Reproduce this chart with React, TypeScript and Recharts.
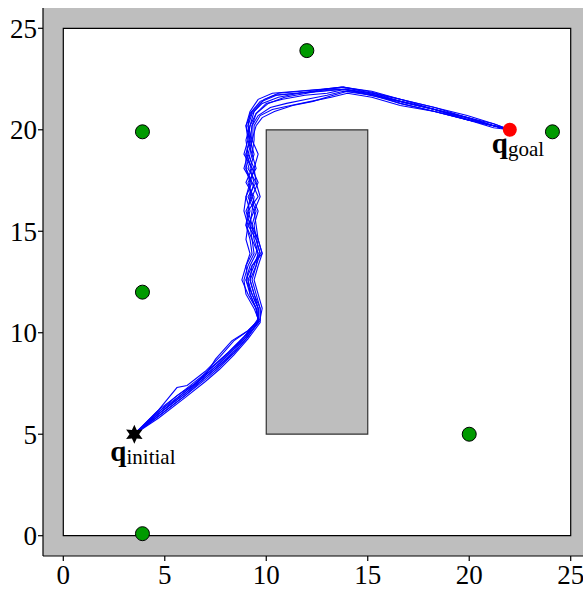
import React from 'react';
import { ComposedChart, XAxis, YAxis, Line, Scatter, ReferenceArea } from 'recharts';

type Pt = [number, number];

const axisTicks = [0, 5, 10, 15, 20, 25];
const workspace = { x1: 0, x2: 25, y1: 0, y2: 25 };
const obstacle = { x1: 10, x2: 15, y1: 5, y2: 20 };

const landmarks: Pt[] = [
  [3.9, 19.9], [12, 23.9], [24.1, 19.9], [3.9, 12], [20, 5], [3.9, 0.1],
];
const startPoint: Pt[] = [[3.5, 5]];
const goalPoint: Pt[] = [[22, 20]];

const runs: Pt[][] = [
  [[3.5,5.0],[4.7,6.2],[5.6,7.3],[6.1,7.4],[7.0,8.1],[7.7,8.8],[8.4,9.6],[9.1,10.1],[9.6,10.6],
   [9.5,11.2],[9.2,11.9],[9.0,12.6],[9.3,13.3],[9.7,13.9],[9.5,14.6],[9.1,15.3],[9.4,16.0],[9.1,16.7],[9.5,17.4],[9.1,18.1],[9.3,18.8],[9.1,19.5],[9.2,20.2],[9.5,20.8],
   [10.1,21.3],[10.9,21.6],[12.0,21.8],[13.0,22.0],[13.8,22.1],[15.2,21.8],[16.6,21.5],[18.3,21.0],[19.9,20.6],[21.2,20.2],[22,20]],
  [[3.5,5.0],[4.7,6.0],[6.0,7.0],[7.0,7.8],[7.7,8.4],[8.4,9.1],[9.0,9.8],[9.6,10.5],
   [9.6,11.2],[9.3,11.9],[9.1,12.6],[9.4,13.3],[9.6,13.9],[9.3,14.6],[9.2,15.3],[9.3,16.0],[9.4,16.7],[9.0,17.4],[9.3,18.1],[9.0,18.8],[9.2,19.5],[9.1,20.2],[9.3,20.8],
   [9.8,21.3],[10.6,21.6],[11.6,21.8],[12.8,21.9],[13.8,22.0],[15.0,21.8],[16.6,21.4],[18.3,21.0],[19.9,20.5],[21.2,20.2],[22,20]],
  [[3.5,5.0],[4.7,5.9],[6.0,6.9],[7.0,7.7],[7.7,8.3],[8.4,9.0],[9.0,9.7],[9.7,10.6],
   [9.7,11.2],[9.4,11.9],[9.2,12.6],[9.3,13.3],[9.8,13.9],[9.6,14.6],[9.3,15.3],[9.5,16.0],[9.2,16.7],[9.4,17.4],[9.2,18.1],[9.4,18.8],[9.2,19.5],[9.3,20.2],[9.6,20.7],
   [10.2,21.1],[11.0,21.3],[12.0,21.5],[13.0,21.7],[13.8,21.9],[15.2,21.7],[16.6,21.3],[18.3,20.9],[19.9,20.5],[21.2,20.2],[22,20]],
  [[3.5,5.0],[4.7,6.1],[6.0,7.1],[7.0,7.9],[7.7,8.5],[8.4,9.2],[9.0,9.8],[9.6,10.7],
   [9.4,11.2],[9.0,11.9],[8.9,12.6],[9.1,13.3],[9.4,13.9],[9.3,14.6],[9.0,15.3],[9.1,16.0],[9.6,16.7],[9.3,17.4],[8.9,18.1],[9.1,18.8],[9.0,19.5],[9.2,20.2],[9.4,20.9],
   [9.9,21.5],[10.6,21.8],[11.7,21.9],[12.8,22.0],[13.7,22.1],[15.2,21.9],[16.6,21.5],[18.3,21.1],[19.9,20.6],[21.2,20.3],[22,20]],
  [[3.5,5.0],[4.7,6.0],[6.0,7.0],[7.0,7.9],[7.5,8.7],[8.3,9.6],[9.1,10.1],[9.6,10.6],
   [9.6,11.2],[9.3,11.9],[9.0,12.6],[9.2,13.3],[9.5,13.9],[9.6,14.6],[9.2,15.3],[9.0,16.0],[9.3,16.7],[9.6,17.4],[9.3,18.1],[8.9,18.8],[9.1,19.5],[9.0,20.2],[9.2,20.9],
   [9.6,21.5],[10.3,21.8],[11.5,21.9],[12.7,22.0],[13.8,22.1],[15.0,21.9],[16.6,21.5],[18.3,21.1],[19.9,20.7],[21.2,20.3],[22,20]],
  [[3.5,5.0],[4.7,5.8],[6.0,6.8],[7.0,7.6],[7.7,8.2],[8.4,8.9],[9.1,9.7],[9.7,10.5],
   [9.7,11.2],[9.5,11.9],[9.3,12.6],[9.5,13.3],[9.7,13.9],[9.5,14.6],[9.4,15.3],[9.6,16.0],[9.3,16.7],[9.1,17.4],[9.5,18.1],[9.3,18.8],[9.4,19.5],[9.4,20.2],[9.7,20.7],
   [10.3,21.0],[11.2,21.2],[12.2,21.4],[13.2,21.6],[14.0,21.8],[15.2,21.6],[16.6,21.2],[18.3,20.9],[19.9,20.5],[21.2,20.2],[22,20]],
  [[3.5,5.0],[4.7,6.2],[6.0,7.2],[7.0,8.0],[7.7,8.6],[8.4,9.3],[9.0,9.9],[9.6,10.6],
   [9.5,11.2],[9.2,11.9],[9.1,12.6],[9.0,13.3],[9.3,13.9],[9.2,14.6],[9.0,15.3],[9.2,16.0],[9.0,16.7],[9.3,17.4],[9.0,18.1],[9.2,18.8],[9.3,19.5],[9.1,20.2],[9.2,20.8],
   [9.7,21.4],[10.4,21.7],[11.4,21.8],[12.6,21.9],[13.6,22.0],[15.0,21.8],[16.6,21.4],[18.3,21.0],[19.9,20.6],[21.2,20.2],[22,20]],
  [[3.5,5.0],[4.7,5.9],[6.0,6.9],[7.0,7.8],[7.7,8.4],[8.4,9.0],[9.1,9.8],[9.7,10.7],
   [9.8,11.2],[9.6,11.9],[9.4,12.6],[9.6,13.3],[9.8,13.9],[9.6,14.6],[9.5,15.3],[9.4,16.0],[9.7,16.7],[9.5,17.4],[9.4,18.1],[9.6,18.8],[9.3,19.5],[9.5,20.2],[9.8,20.6],
   [10.4,20.9],[11.3,21.2],[12.3,21.4],[13.3,21.7],[14.0,21.9],[15.4,21.7],[16.6,21.3],[18.3,20.9],[19.9,20.5],[21.2,20.1],[22,20]],
  [[3.5,5.0],[4.7,6.1],[5.6,6.9],[6.5,7.5],[7.3,8.3],[8.1,9.0],[8.9,9.8],[9.6,10.6],
   [9.5,11.2],[9.1,11.9],[8.8,12.6],[9.0,13.3],[9.2,13.9],[9.0,14.6],[9.1,15.3],[8.9,16.0],[9.0,16.7],[9.2,17.4],[9.0,18.1],[9.0,18.8],[9.2,19.5],[9.0,20.2],[9.3,20.9],
   [9.8,21.4],[10.5,21.7],[11.6,21.8],[12.9,22.0],[13.9,22.0],[15.3,21.8],[16.6,21.4],[18.3,21.0],[19.9,20.6],[21.2,20.2],[22,20]],
  [[3.5,5.0],[4.7,6.0],[6.0,7.1],[7.0,7.9],[7.7,8.5],[8.4,9.2],[9.0,9.9],[9.6,10.6],
   [9.6,11.2],[9.4,11.9],[9.2,12.6],[9.5,13.3],[9.6,13.9],[9.4,14.6],[9.3,15.3],[9.1,16.0],[9.2,16.7],[9.2,17.4],[9.4,18.1],[9.1,18.8],[9.3,19.5],[9.3,20.2],[9.5,20.8],
   [10.0,21.3],[10.8,21.5],[11.9,21.7],[13.0,21.8],[13.9,22.0],[15.1,21.7],[16.6,21.4],[18.3,21.0],[19.9,20.5],[21.2,20.2],[22,20]],
];

const toXY = (pts: Pt[]) => pts.map(([x, y]) => ({ x, y }));

const serif = 'Liberation Serif';
const tickStyle = { fill: '#000', fontSize: 27, fontFamily: serif };

const QLabel = ({ x, y, sub }: { x: number; y: number; sub: string }) => (
  <text x={x} y={y} fill="#000" style={{ fontFamily: serif }}>
    <tspan fontSize={29} fontWeight="bold">q</tspan>
    <tspan fontSize={21} dy={3}>{sub}</tspan>
  </text>
);

const LandmarkDot = (props: any) => (
  <circle cx={props.cx} cy={props.cy} r={7} fill="#009a00" stroke="#000" strokeWidth={1} />
);

const GoalDot = (props: any) => (
  <g>
    <circle cx={props.cx} cy={props.cy} r={7} fill="#ff0000" />
    <QLabel x={props.cx - 18} y={props.cy + 23} sub="goal" />
  </g>
);

const StartStar = (props: any) => {
  const { cx, cy } = props;
  const pts: string[] = [];
  for (let i = 0; i < 12; i++) {
    const r = i % 2 === 0 ? 9.5 : 4.8;
    const a = (Math.PI / 6) * i - Math.PI / 2;
    pts.push(`${cx + r * Math.cos(a)},${cy + r * Math.sin(a)}`);
  }
  return (
    <g>
      <polygon points={pts.join(' ')} fill="#000" />
      <QLabel x={cx - 24} y={cy + 27} sub="initial" />
    </g>
  );
};

export default function App() {
  return (
    <div style={{ position: 'absolute', left: 0, top: 0, width: 583, height: 590, overflow: 'hidden', background: '#fff' }}>
      <ComposedChart width={600} height={590} margin={{ top: 8, right: 9, bottom: 0, left: 0 }}>
        <XAxis
          type="number"
          dataKey="x"
          domain={[-1, 26]}
          ticks={axisTicks}
          allowDataOverflow
          interval={0}
          height={34}
          tickSize={5}
          tickMargin={4}
          tick={tickStyle}
          axisLine={{ stroke: '#000', strokeWidth: 1.2 }}
          tickLine={{ stroke: '#000', strokeWidth: 1.2 }}
        />
        <YAxis
          type="number"
          dataKey="y"
          domain={[-1, 26]}
          ticks={axisTicks}
          allowDataOverflow
          interval={0}
          width={43}
          tickSize={5}
          tickMargin={1}
          tick={tickStyle}
          axisLine={{ stroke: '#000', strokeWidth: 1.2 }}
          tickLine={{ stroke: '#000', strokeWidth: 1.2 }}
        />
        <ReferenceArea x1={-1} x2={26} y1={-1} y2={26} fill="#bebebe" fillOpacity={1} stroke="none" ifOverflow="visible" />
        <ReferenceArea {...workspace} fill="#ffffff" fillOpacity={1} stroke="#000" strokeWidth={1.2} />
        <ReferenceArea {...obstacle} fill="#bebebe" fillOpacity={1} stroke="#333" strokeWidth={1.2} />
        <Scatter data={toXY(landmarks)} shape={LandmarkDot} isAnimationActive={false} />
        <Scatter data={toXY(goalPoint)} shape={GoalDot} isAnimationActive={false} />
        {runs.map((run, i) => (
          <Line
            key={i}
            data={toXY(run)}
            dataKey="y"
            type="linear"
            stroke="#0000ff"
            strokeWidth={1.1}
            dot={false}
            activeDot={false}
            isAnimationActive={false}
          />
        ))}
        <Scatter data={toXY(startPoint)} shape={StartStar} isAnimationActive={false} />
      </ComposedChart>
    </div>
  );
}
